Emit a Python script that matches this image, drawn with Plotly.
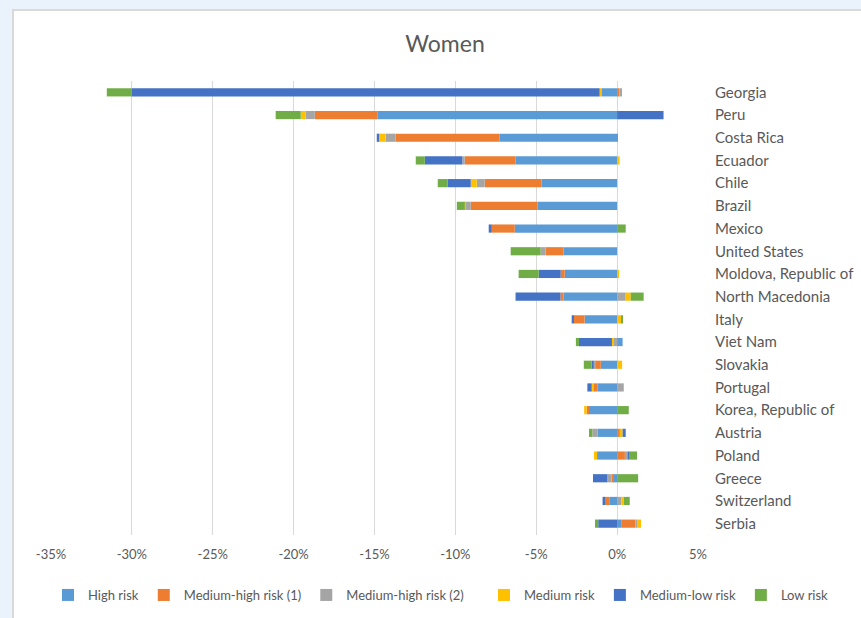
import plotly.graph_objects as go

countries = ["Georgia", "Peru", "Costa Rica", "Ecuador", "Chile", "Brazil", "Mexico",
             "United States", "Moldova, Republic of", "North Macedonia", "Italy", "Viet Nam",
             "Slovakia", "Portugal", "Korea, Republic of", "Austria", "Poland", "Greece",
             "Switzerland", "Serbia"]

# values in percent
high_risk =      [-0.96, -14.80, -7.26, -6.27, -4.67, -4.91, -6.33, -3.31, -3.24, -3.31, -2.01,  0.34, -1.01, -1.22, -1.80, -1.20, -1.24, -0.25, -0.45,  0.25]
med_high_1 =     [ 0.15,  -3.89, -6.43, -3.15, -3.52, -4.14, -1.42, -1.11, -0.25, -0.19, -0.68,  0.00, -0.31, -0.25, -0.08,  0.17,  0.48, -0.10, -0.35,  0.88]
med_high_2 =     [ 0.15,  -0.56, -0.62, -0.15, -0.49, -0.31,  0.00, -0.31,  0.00,  0.53,  0.00, -0.20, -0.12,  0.41,  0.00, -0.33,  0.16, -0.25,  0.27,  0.14]
medium =         [-0.12,  -0.31, -0.43,  0.15, -0.37, -0.06,  0.00,  0.00,  0.12,  0.31,  0.25, -0.12,  0.31, -0.10, -0.16,  0.17, -0.19,  0.00,  0.14,  0.21]
med_low =        [-28.92,  2.87, -0.12, -2.32, -1.42,  0.00, -0.19,  0.00, -1.36, -2.78, -0.12, -2.04, -0.14, -0.27,  0.00,  0.19,  0.14, -0.89, -0.10, -1.17]
low_risk =       [-1.55,  -1.55,  0.05, -0.56, -0.62, -0.49,  0.53, -1.85, -1.24,  0.80,  0.10, -0.19, -0.48,  0.00,  0.72, -0.21,  0.45,  1.30,  0.37, -0.20]

series_names = ["High risk", "Medium-high risk (1)", "Medium-high risk (2)", "Medium risk",
                "Medium-low risk", "Low risk"]
series_values = [high_risk, med_high_1, med_high_2, medium, med_low, low_risk]
colors = ["#5B9BD5", "#ED7D31", "#A5A5A5", "#FFC000", "#4472C4", "#70AD47"]
legend_ids = ["legend", "legend", "legend", "legend2", "legend2", "legend2"]

tick_vals = [-35, -30, -25, -20, -15, -10, -5, 0, 5]
tick_text = ["-35%", "-30%", "-25%", "-20%", "-15%", "-10%", "-5%", "0%", "5%"]

FONT = "Lato"
GREY = "#595959"

fig = go.Figure()
for name, vals, col, lg in zip(series_names, series_values, colors, legend_ids):
    fig.add_trace(go.Bar(
        y=countries, x=vals, name=name, orientation="h", legend=lg,
        marker=dict(color=col, line=dict(width=0)),
    ))

W, H = 861, 618
L, R, T, B = 51, 163, 81, 83
pw = W - L - R
ph = H - T - B

legend_common = dict(orientation="h", xref="container", yref="container",
                     y=1 - 595 / H, yanchor="middle",
                     font=dict(size=13, color=GREY, family=FONT),
                     bgcolor="rgba(0,0,0,0)", traceorder="normal", itemwidth=30)

fig.update_layout(
    width=W, height=H,
    barmode="relative",
    bargap=0.64,
    margin=dict(l=L, r=R, t=T, b=B, pad=0, autoexpand=False),
    paper_bgcolor="#EAF3FC",
    plot_bgcolor="white",
    font=dict(family=FONT, color=GREY, size=13),
    title=dict(text="Women", x=445 / W, xref="container", xanchor="center",
               y=1 - 44 / H, yref="container", yanchor="middle",
               font=dict(size=23, color=GREY, family=FONT)),
    xaxis=dict(range=[-35, 5], tickvals=tick_vals, ticktext=tick_text,
               showgrid=True, gridcolor="#D9D9D9", gridwidth=1,
               zeroline=False, showline=False, ticks="",
               ticklabelstandoff=10, automargin=False,
               tickfont=dict(size=13, color=GREY, family=FONT), fixedrange=True),
    yaxis=dict(autorange="reversed", side="right", showgrid=False, zeroline=False,
               showline=False, ticks="", ticklabelstandoff=16, automargin=False,
               tickfont=dict(size=15, color=GREY, family=FONT), fixedrange=True),
    legend=dict(x=48 / W, xanchor="left", **legend_common),
    legend2=dict(x=484 / W, xanchor="left", **legend_common),
    showlegend=True,
)

# white chart box with light grey border (extends past the right/bottom edge)
fig.add_shape(type="rect", xref="paper", yref="paper", layer="below",
              x0=(13 - L) / pw, x1=(W + 40 - L) / pw,
              y0=-(B + 40) / ph, y1=(ph + T - 10) / ph,
              fillcolor="white", line=dict(color="#D9D9D9", width=2))

fig.write_html("out.html")
